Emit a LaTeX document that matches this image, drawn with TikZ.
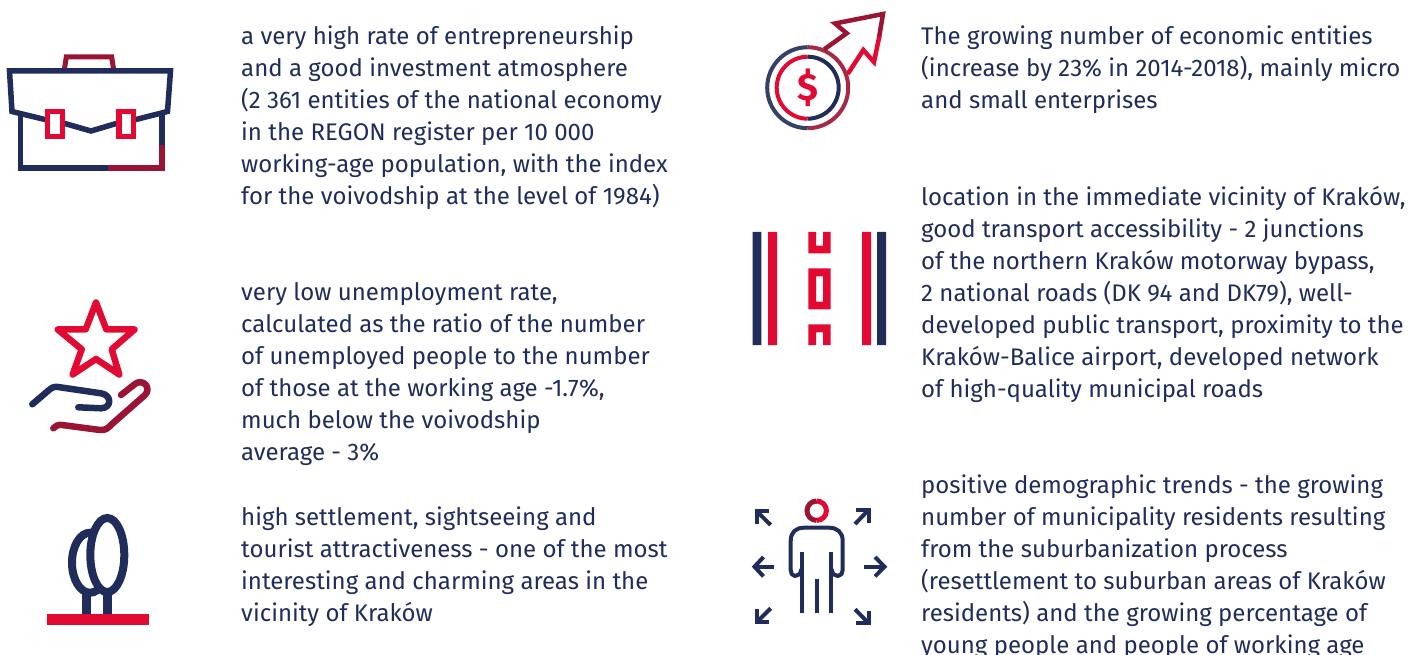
\documentclass[tikz,border=0pt]{standalone}
\usepackage{fontspec}
\setmainfont{Fira Sans}
\definecolor{navy}{HTML}{202C5A}
\definecolor{rd}{HTML}{E20A33}
\definecolor{crim}{HTML}{9A1433}
\definecolor{txt}{HTML}{202C5A}
\tikzset{
 para/.style={anchor=north west,inner sep=0pt,align=left,text=txt,font=\fontsize{24}{32}\selectfont},
 ln/.style={line width=#1,line cap=butt,line join=miter},
 rnd/.style={line width=#1,line cap=round,line join=round},
}
\begin{document}
\begin{tikzpicture}[x=1pt,y=-1pt]
\useasboundingbox (0,0) rectangle (1419,655);
% text
\node[para] (t1) at (241,26) {a very high rate of entrepreneurship\\and a good investment atmosphere\\(2 361 entities of the national economy\\in the REGON register per 10 000\\working-age population, with the index\\for the voivodship at the level of 1984)};
\node[para] (t2) at (241,282) {very low unemployment rate,\\calculated as the ratio of the number\\of unemployed people to the number\\of those at the working age -1.7\%,\\much below the voivodship\\average - 3\%};
\node[para] (t3) at (241,506.6) {high settlement, sightseeing and\\tourist attractiveness - one of the most\\interesting and charming areas in the\\vicinity of Kraków};
\node[para] (t4) at (921,26) {The growing number of economic entities\\(increase by 23\% in 2014-2018), mainly micro\\and small enterprises};
\node[para] (t5) at (921,186) {location in the immediate vicinity of Kraków,\\good transport accessibility - 2 junctions\\of the northern Kraków motorway bypass,\\2 national roads (DK 94 and DK79), well-\\developed public transport, proximity to the\\Kraków-Balice airport, developed network\\of high-quality municipal roads};
\node[para] (t6) at (921,475) {positive demographic trends - the growing\\number of municipality residents resulting\\from the suburbanization process\\(resettlement to suburban areas of Kraków\\residents) and the growing percentage of\\young people and people of working age};
% briefcase
\draw[crim,ln=5pt] (64.3,70) -- (66.3,57) -- (111.7,57) -- (113.7,70);
\draw[navy,ln=5.5pt] (20.7,113) -- (20.7,168) -- (108.5,168);
\draw[crim,ln=5.5pt] (108,168) -- (162,168) -- (162,145);
\draw[navy,ln=5.5pt] (162,145.5) -- (162,113);
\draw[navy,ln=5.5pt] (47,120) -- (12,111.5) -- (9.5,71) -- (170.5,71) -- (167.5,111.5) -- (134,120);
\draw[navy,ln=5.5pt] (63,123) -- (91,131) -- (118,123);
\draw[rd,ln=5.5pt] (47.7,111.7) rectangle (62.3,136.6);
\draw[rd,ln=5.5pt] (119,111.7) rectangle (133.6,136.6);
% star and hand
\draw[rd,rnd=6.5pt] (96,302.5) -- (106.3,329.3) -- (134.5,329.5) -- (111.7,349.3) -- (119.3,374.5) -- (96,359) -- (72.7,374.5) -- (81.7,349.3) -- (57.8,329.5) -- (85.7,329.3) -- cycle;
\draw[navy,rnd=6.5pt] (32.3,404.3) -- (49,390) .. controls (52,387.5) and (54,386.5) .. (58,387) -- (101,393.3) .. controls (112,395) and (112,408) .. (101,408.3) -- (78.3,407.3);
\draw[crim,rnd=6.5pt] (121,395) -- (135,384) .. controls (143,378) and (152,388) .. (145,395) -- (112,424) .. controls (108,428) and (106,430.5) .. (100,430) -- (62,425) .. controls (58,424.5) and (55,426) .. (53.3,428.3);
% trees
\draw[navy,line width=8.5pt] (86.7,590) -- (86.7,615);
\draw[navy,line width=8.5pt] (107.7,590) -- (107.7,615);
\draw[navy,line width=8pt] (90,562.7) ellipse [x radius=18,y radius=30];
\draw[navy,fill=white,line width=8pt] (107.3,555) ellipse [x radius=17,y radius=37];
\fill[rd] (47,614) rectangle (149,625);
% dollar
\draw[navy,line width=4pt,opacity=.9] (807.7,47.2) arc[start angle=-90,end angle=-270,x radius=40.5,y radius=40.5];
\draw[crim,line width=4pt,opacity=.9] (807.7,47.2) arc[start angle=-90,end angle=90,x radius=40.5,y radius=40.5];
\draw[rd,line width=4pt] (807.7,56.7) arc[start angle=-90,end angle=-270,x radius=31,y radius=31];
\draw[navy,line width=4pt] (807.7,56.7) arc[start angle=-90,end angle=90,x radius=31,y radius=31];
\node[text=rd,inner sep=0pt,font=\fontsize{38}{38}\selectfont\bfseries] (d) at (808,88) {\$};
\draw[crim,ln=4.5pt] (824.3,49.3) -- (846.7,33.3) -- (835,23.5) -- (883,14) -- (879,37.7);
\draw[rd,ln=4.5pt] (879.4,36) -- (874,62) -- (863.3,50) -- (847.7,74);
% road
\fill[navy] (752.7,232) rectangle (761.3,345) (877,232) rectangle (886,345);
\fill[rd] (768,232) rectangle (777,345) (862,232) rectangle (871,345);
\fill[rd] (808.3,232) -- (816,232) -- (816,245.7) -- (823,245.7) -- (823,232) -- (830.7,232) -- (830.7,253.3) -- (808.3,253.3) -- cycle;
\fill[rd,even odd rule] (808.3,268.3) rectangle (830.7,309.3) (816,276.3) rectangle (823,301.7);
\fill[rd] (808.3,345) -- (816,345) -- (816,332.3) -- (823,332.3) -- (823,345) -- (830.7,345) -- (830.7,324.3) -- (808.3,324.3) -- cycle;
% person
\draw[rd,line width=5pt] (816.7,501) arc[start angle=-90,end angle=90,x radius=9.7,y radius=9.7];
\draw[crim,line width=5pt] (816.7,501) arc[start angle=-90,end angle=-270,x radius=9.7,y radius=9.7];
\draw[navy,line width=4pt,line cap=round,line join=round] (801,570) .. controls (801,574) and (798,576) .. (795,576) .. controls (792,576) and (790.7,573) .. (790.7,570) -- (790.7,541) .. controls (790.7,532) and (796,527.7) .. (804,527.7) -- (829,527.7) .. controls (837,527.7) and (842.7,532) .. (842.7,541) -- (842.7,570) .. controls (842.7,573) and (841,576) .. (838,576) .. controls (835,576) and (832,574) .. (832,570);
\draw[navy,line width=4pt] (802.3,551.7) -- (802.3,613.3);
\draw[navy,line width=4pt] (816.7,579.3) -- (816.7,613.3);
\draw[navy,line width=4pt] (831,551.7) -- (831,613.3);
\draw[navy,ln=4pt] (774,566.7) -- (755,566.7);
\draw[navy,ln=4pt] (763.5,557) -- (754.5,566.7) -- (763.5,576.4);
\draw[navy,ln=4pt] (864,566.7) -- (884,566.7);
\draw[navy,ln=4pt] (875,557) -- (884.5,566.7) -- (875,576.4);
\draw[navy,ln=4pt] (770.7,525) -- (757,511.5);
\draw[navy,ln=4pt] (756.7,524) -- (756.7,511.2) -- (769.3,511.2);
\draw[navy,ln=4pt] (855,524) -- (868.5,510);
\draw[navy,ln=4pt] (856,510) -- (868.8,510) -- (868.8,522.7);
\draw[navy,ln=4pt] (770.7,608.3) -- (757,622);
\draw[navy,ln=4pt] (756.7,609) -- (756.7,621.7) -- (769.3,621.7);
\draw[navy,ln=4pt] (855,609.3) -- (868.5,623);
\draw[navy,ln=4pt] (856,623) -- (868.8,623) -- (868.8,610.7);
\end{tikzpicture}
\end{document}
